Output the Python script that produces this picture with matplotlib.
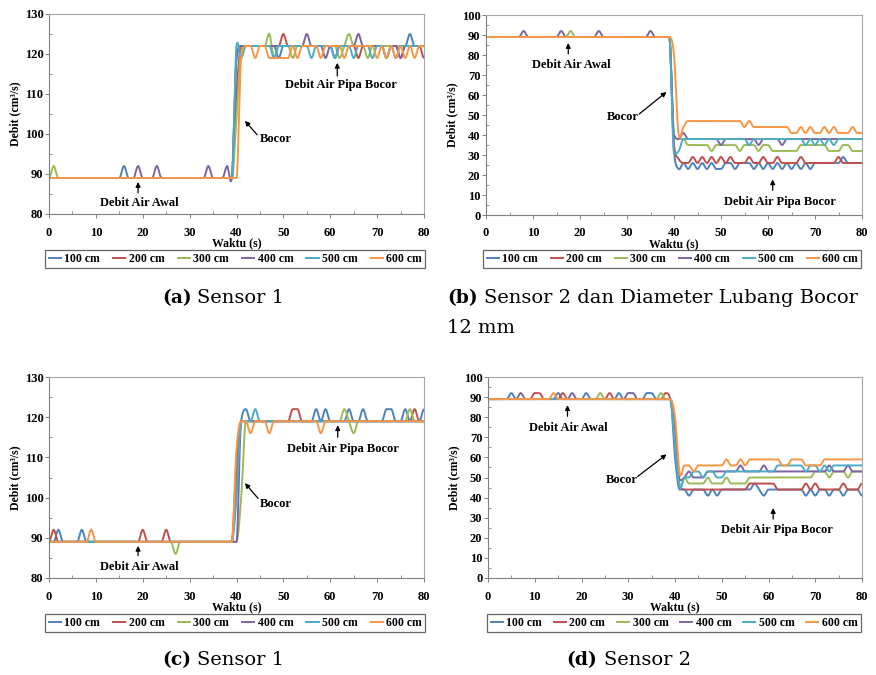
import numpy as np
import matplotlib.pyplot as plt
from matplotlib.ticker import MultipleLocator

series_names = ['100 cm', '200 cm', '300 cm', '400 cm', '500 cm', '600 cm']
series_colors = ['#4F81BD', '#C0504D', '#9BBB59', '#8064A2', '#4BACC6', '#F79646']
waktu = np.arange(0, 81)  # s

# Each series: level changes (t, debit) and single-sample spikes (t, debit)
# (a) Sensor 1
a_levels = [
    [(0, 89), (40, 119), (41, 122)],
    [(0, 89), (40, 110), (41, 122)],
    [(0, 89), (40, 104), (41, 121), (42, 122)],
    [(0, 89), (40, 119), (41, 122)],
    [(0, 89), (40, 122)],
    [(0, 89), (41, 119), (42, 122), (47, 119), (52, 122)],
]
a_spikes = [
    [(16, 92), (49, 119), (77, 125)],
    [(50, 125), (66, 119), (75, 119), (80, 119)],
    [(1, 92), (47, 125), (48, 119), (52, 119), (62, 119), (64, 125), (68, 119)],
    [(19, 92), (23, 92), (34, 92), (38, 92), (55, 125), (59, 119), (61, 119),
     (66, 125), (72, 119), (75, 119)],
    [(41, 119), (48, 119), (56, 119), (61, 119), (65, 119), (69, 119), (72, 119), (74, 119)],
    [(44, 119), (53, 119), (58, 119), (63, 119), (70, 119), (72, 119), (74, 119),
     (76, 119), (78, 119)],
]

# (b) Sensor 2, lubang bocor 12 mm
b_levels = [
    [(0, 89), (40, 32), (41, 23), (42, 26)],
    [(0, 89), (40, 35), (41, 28), (42, 26)],
    [(0, 89), (40, 40), (41, 38), (43, 35), (61, 32), (67, 35), (73, 32), (76, 35), (78, 32)],
    [(0, 89), (40, 40), (41, 38)],
    [(0, 89), (40, 31), (41, 32), (42, 38)],
    [(0, 89), (40, 80), (41, 40), (42, 44), (43, 47), (55, 44), (56, 47), (57, 44), (65, 41)],
]
b_spikes = [
    [(43, 23), (45, 23), (47, 23), (49, 23), (50, 23), (53, 23), (57, 23), (59, 23),
     (61, 23), (63, 23), (65, 23), (67, 23), (69, 23), (76, 29)],
    [(44, 29), (46, 29), (48, 29), (50, 29), (52, 29), (56, 29), (59, 29), (62, 29),
     (67, 29), (75, 29)],
    [(18, 92), (48, 32), (54, 32), (58, 32)],
    [(8, 92), (16, 92), (24, 92), (35, 92), (42, 41), (50, 35), (58, 35), (63, 35)],
    [(56, 35), (68, 35), (70, 35), (72, 35), (74, 35)],
    [(67, 44), (69, 44), (72, 44), (74, 44), (78, 44)],
]

# (c) Sensor 1
c_levels = [
    [(0, 89), (40, 105), (41, 119)],
    [(0, 89), (40, 110), (41, 119)],
    [(0, 89), (41, 100), (42, 119)],
    [(0, 89), (41, 119)],
    [(0, 89), (40, 100), (41, 119)],
    [(0, 89), (40, 112), (41, 119)],
]
c_spikes = [
    [(2, 92), (7, 92), (42, 122), (57, 122), (59, 122), (64, 122), (67, 122),
     (72, 122), (73, 122), (76, 122), (80, 122)],
    [(1, 92), (20, 92), (25, 92), (52, 122), (53, 122), (78, 122)],
    [(27, 86), (63, 122), (65, 116), (77, 122)],
    [],
    [(44, 122)],
    [(9, 92), (43, 116), (47, 116), (58, 116)],
]

# (d) Sensor 2
d_levels = [
    [(0, 89), (40, 60), (41, 44)],
    [(0, 89), (40, 70), (41, 46), (42, 44), (56, 47), (62, 44), (80, 47)],
    [(0, 89), (40, 70), (41, 46), (42, 50), (43, 47), (56, 50), (70, 53)],
    [(0, 89), (40, 75), (41, 49), (42, 50), (47, 53)],
    [(0, 89), (40, 65), (41, 45), (42, 50), (44, 53), (46, 50), (47, 53), (49, 50),
     (51, 53), (62, 56)],
    [(0, 89), (40, 80), (41, 52), (42, 56), (44, 53), (45, 56), (56, 59), (63, 56),
     (65, 59), (68, 56), (72, 59)],
]
d_spikes = [
    [(5, 92), (15, 92), (21, 92), (28, 92), (34, 92), (35, 92), (43, 41), (47, 41),
     (49, 41), (57, 47), (59, 41), (68, 41), (70, 41), (73, 41), (76, 41), (80, 41)],
    [(10, 92), (11, 92), (16, 92), (26, 92), (38, 92), (68, 47), (70, 47), (76, 47)],
    [(24, 92), (37, 92), (47, 50), (51, 50), (73, 50), (77, 50)],
    [(7, 92), (18, 92), (30, 92), (31, 92), (43, 53), (54, 56), (59, 56), (73, 56), (77, 56)],
    [(68, 53), (71, 53), (73, 53)],
    [(14, 92), (51, 59), (54, 59)],
]


def build(levels, spikes):
    y = np.zeros(len(waktu), dtype=float)
    for t, v in levels:
        y[waktu >= t] = v
    for t, v in spikes:
        y[waktu == t] = v
    return y


def smooth(x, y, n=14):
    # smoothed line through the samples: Catmull-Rom tangents, limited so the
    # flat parts next to the big step do not overshoot
    p = np.concatenate([[y[0]], y, [y[-1]]])
    dl = p[1:-1] - p[:-2]
    dr = p[2:] - p[1:-1]
    lim = 3 * np.minimum(np.abs(dl), np.abs(dr))
    m = np.clip(0.5 * (dl + dr), -lim, lim)
    s = np.linspace(0, 1, n, endpoint=False)[:, None]
    h00 = 2 * s ** 3 - 3 * s ** 2 + 1
    h10 = s ** 3 - 2 * s ** 2 + s
    h01 = -2 * s ** 3 + 3 * s ** 2
    h11 = s ** 3 - s ** 2
    ys = h00 * y[:-1] + h10 * m[:-1] + h01 * y[1:] + h11 * m[1:]
    xs = x[:-1] + s * (x[1:] - x[:-1])
    return (np.append(xs.T.ravel(), x[-1]), np.append(ys.T.ravel(), y[-1]))


W, H = 876, 675
fig = plt.figure(figsize=(W / 100, H / 100), dpi=100)
FONT = 'Liberation Serif'


def rect(left, right, top, bottom):
    return [left / W, 1 - bottom / H, (right - left) / W, (bottom - top) / H]


panels = [
    dict(levels=a_levels, spikes=a_spikes, rect=rect(49, 424, 14, 214), ylim=(80, 130),
         major=10, minor=5, leg=(-0.011, -0.27, 1.014, 0.09),
         notes=[('Debit Air Awal', (19.3, 82.7), (19, 88.0), (19, 85.3)),
                ('Bocor', (48.4, 98.7), (41.8, 103.3), (44.4, 99.8)),
                ('Debit Air Pipa Bocor', (62.3, 112.2), (61.5, 117.8), (61.5, 114.5))]),
    dict(levels=b_levels, spikes=b_spikes, rect=rect(486, 862, 15, 215), ylim=(0, 100),
         major=10, minor=5, leg=(-0.008, -0.265, 1.005, 0.09),
         notes=[('Debit Air Awal', (18.2, 75), (17.5, 86.0), (17.5, 80.5)),
                ('Bocor', (29.2, 49), (38.4, 61.5), (32.6, 50.5)),
                ('Debit Air Pipa Bocor', (62.6, 6.7), (61, 17.8), (61, 12.3))]),
    dict(levels=c_levels, spikes=c_spikes, rect=rect(49, 424, 377, 578), ylim=(80, 130),
         major=10, minor=5, leg=(-0.011, -0.268, 1.014, 0.085),
         notes=[('Debit Air Awal', (19.3, 82.8), (19, 88.0), (19, 85.6)),
                ('Bocor', (48.4, 98.4), (41.8, 103.6), (44.6, 99.8)),
                ('Debit Air Pipa Bocor', (62.8, 112), (61.6, 118.0), (61.6, 115.0))]),
    dict(levels=d_levels, spikes=d_spikes, rect=rect(488, 862, 377, 578), ylim=(0, 100),
         major=10, minor=5, leg=(-0.003, -0.268, 0.999, 0.085),
         notes=[('Debit Air Awal', (17.2, 74.5), (17, 86.0), (17, 80.5)),
                ('Bocor', (28.6, 49), (38.2, 61.5), (32.0, 50.5)),
                ('Debit Air Pipa Bocor', (61.7, 24), (61, 34.8), (61, 29.3))]),
]

for pn in panels:
    ax = fig.add_axes(pn['rect'])
    for levels, spikes, name, color in zip(pn['levels'], pn['spikes'], series_names, series_colors):
        xs, ys = smooth(waktu.astype(float), build(levels, spikes))
        ax.plot(xs, ys, color=color, lw=1.4, label=name, solid_capstyle='butt')
    ax.set_xlim(0, 80)
    ax.set_ylim(*pn['ylim'])
    ax.xaxis.set_major_locator(MultipleLocator(10))
    ax.xaxis.set_minor_locator(MultipleLocator(5))
    ax.yaxis.set_major_locator(MultipleLocator(pn['major']))
    ax.yaxis.set_minor_locator(MultipleLocator(pn['minor']))
    ax.tick_params(which='major', direction='out', length=3, width=0.7, color='#808080')
    ax.tick_params(axis='x', which='major', pad=6)
    ax.tick_params(axis='y', which='major', pad=1)
    ax.tick_params(which='minor', direction='in', length=2.5, width=0.6, color='#808080')
    for lab in ax.get_xticklabels() + ax.get_yticklabels():
        lab.set_fontfamily(FONT)
        lab.set_fontweight('bold')
        lab.set_fontsize(9)
    for side in ['left', 'bottom']:
        ax.spines[side].set_color('#7F7F7F')
        ax.spines[side].set_linewidth(0.8)
    for side in ['top', 'right']:
        ax.spines[side].set_color('#A6A6A6')
        ax.spines[side].set_linewidth(0.8)
    ax.set_xlabel('Waktu (s)', fontfamily=FONT, fontweight='bold', fontsize=8.5, va='center')
    ax.xaxis.set_label_coords(0.5, -0.145)
    ax.set_ylabel('Debit (cm³/s)', fontfamily=FONT, fontweight='bold', fontsize=8.5)
    ax.yaxis.set_label_coords(-0.075, 0.5)

    for text, pos, head, tail in pn['notes']:
        ax.annotate('', xy=head, xytext=tail,
                    arrowprops=dict(arrowstyle='-|>', color='black', lw=0.9, mutation_scale=7,
                                    shrinkA=0, shrinkB=0))
        ax.text(pos[0], pos[1], text, ha='center', va='center', fontfamily=FONT,
                fontweight='bold', fontsize=9)

    leg = ax.legend(loc='center', bbox_to_anchor=pn['leg'], mode='expand', ncol=6,
                    prop=dict(family=FONT, weight='bold', size=8.5), frameon=True,
                    fancybox=False, edgecolor='#404040', handlelength=1.2,
                    handletextpad=0.2, borderpad=0.25, borderaxespad=0)
    leg.get_frame().set_linewidth(0.9)

# Captions
CAP = 'DejaVu Serif'
captions = [
    ('(a)', 'Sensor 1', 162, 197, 298),
    ('(b)', 'Sensor 2 dan Diameter Lubang Bocor', 447, 484, 298),
    ('(c)', 'Sensor 1', 162, 197, 660),
    ('(d)', 'Sensor 2', 566, 604, 660),
]
for tag, rest, x1, x2, y in captions:
    fig.text(x1 / W, 1 - y / H, tag, ha='left', va='center', fontfamily=CAP,
             fontweight='bold', fontsize=13.5)
    fig.text(x2 / W, 1 - y / H, rest, ha='left', va='center', fontfamily=CAP, fontsize=14)
fig.text(447 / W, 1 - 328 / H, '12 mm', ha='left', va='center', fontfamily=CAP, fontsize=14)

fig.savefig('out.png', dpi=100)
